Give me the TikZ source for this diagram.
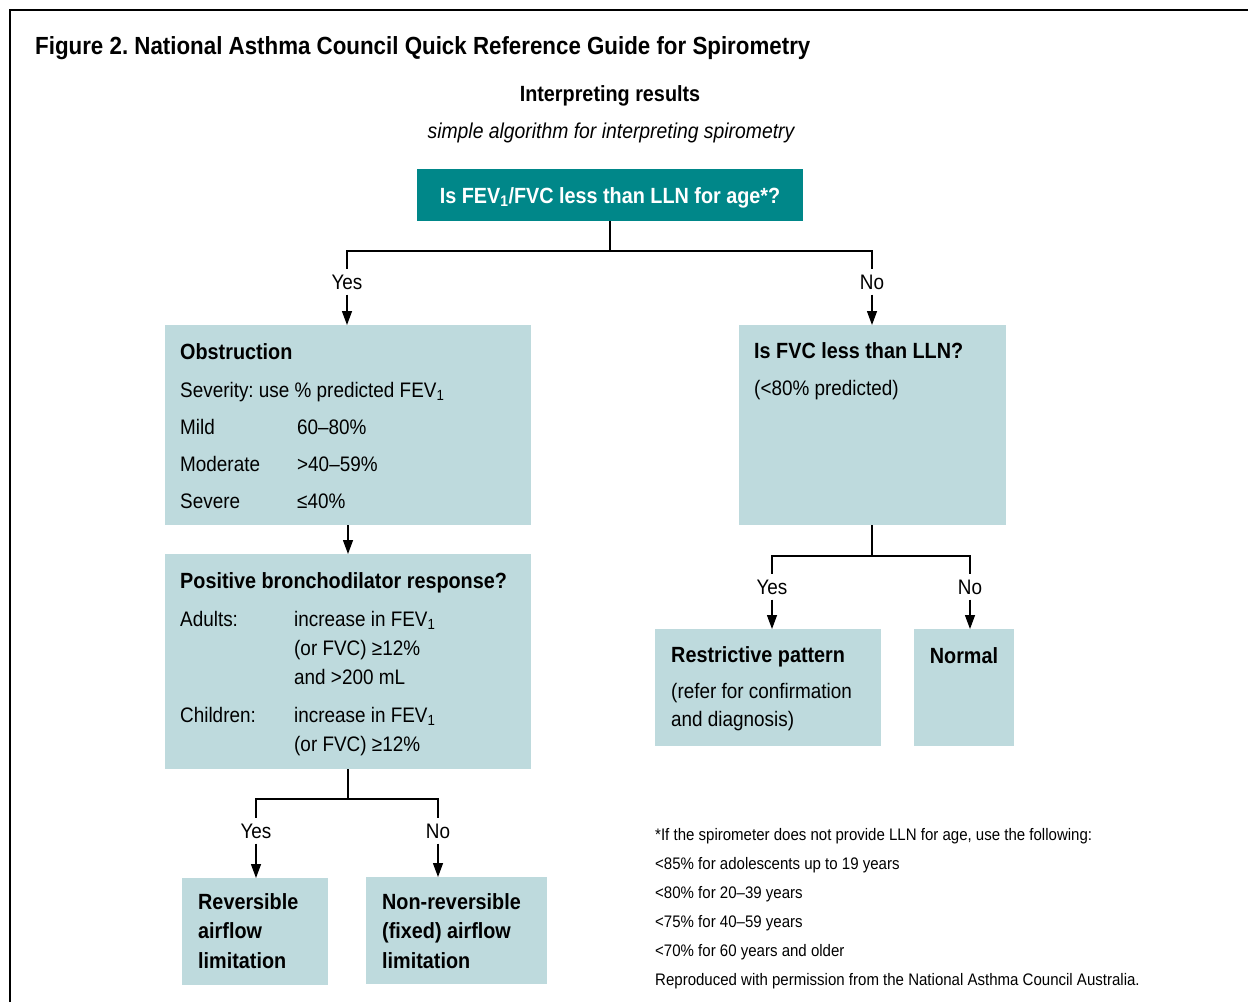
\documentclass[tikz,border=0pt]{standalone}
\usepackage{fontspec}
\setmainfont{Liberation Sans}[FakeStretch=0.9]
\usetikzlibrary{arrows.meta}
\definecolor{teal1}{RGB}{0,135,137}
\definecolor{boxbg}{RGB}{190,218,221}
\frenchspacing
\begin{document}
\begin{tikzpicture}[x=1pt,y=-1pt,
  box/.style={fill=boxbg, draw=none, anchor=north west, inner sep=0pt},
  txt/.style={anchor=base west, inner sep=0pt, font=\fontsize{21}{25}\selectfont},
  btxt/.style={anchor=base west, inner sep=0pt, font=\fontsize{22}{26}\selectfont\bfseries},
  lbl/.style={font=\fontsize{21}{25}\selectfont, inner xsep=2pt, inner ysep=5pt, text height=15pt, text depth=0pt},
  ln/.style={line width=1.3pt},
  arr/.style={ln, -{Triangle[width=10pt,length=14pt]}},
  foot/.style={anchor=base west, inner sep=0pt, font=\fontsize{16.7}{20}\selectfont}]
\useasboundingbox (0,0) rectangle (1248,1002);
\fill[white] (0,0) rectangle (1248,1002);
% frame
\draw[line width=2pt] (10,1002) -- (10,10) -- (1248,10);
% titles
\node[anchor=base west, inner sep=0pt, font=\fontsize{24.8}{30}\selectfont\bfseries] (title) at (35,54) {Figure 2. National Asthma Council Quick Reference Guide for Spirometry};
\node[anchor=base, inner sep=0pt, font=\fontsize{22}{26}\selectfont\bfseries] (sub) at (610,101) {Interpreting results};
\node[anchor=base, inner sep=0pt, font=\fontsize{21.5}{25}\selectfont\itshape] (sub2) at (611,138) {simple algorithm for interpreting spirometry};
% top question
\node[fill=teal1, text=white, minimum width=386pt, minimum height=52pt, inner sep=0pt, font=\fontsize{22}{26}\selectfont\bfseries, text height=16pt, text depth=0pt] (q) at (610,195) {Is FEV\textsubscript{1}/FVC less than LLN for age*?};
% boxes
\node[box, minimum width=366pt, minimum height=200pt] (obs) at (165,325) {};
\node[box, minimum width=366pt, minimum height=215pt] (pbr) at (165,554) {};
\node[box, minimum width=267pt, minimum height=200pt] (fvc) at (739,325) {};
\node[box, minimum width=226pt, minimum height=117pt] (rest) at (655,629) {};
\node[box, minimum width=100pt, minimum height=117pt] (norm) at (914,629) {};
\node[box, minimum width=146pt, minimum height=107pt] (rev) at (182,878) {};
\node[box, minimum width=181pt, minimum height=107pt] (nrev) at (366,877) {};
% obstruction text
\node[btxt] (o1) at (180,359) {Obstruction};
\node[txt] (o2) at (180,397) {Severity: use \% predicted FEV\textsubscript{1}};
\node[txt] (o3a) at (180,434) {Mild};
\node[txt] (o3b) at (297,434) {60–80\%};
\node[txt] (o4a) at (180,471) {Moderate};
\node[txt] (o4b) at (297,471) {>40–59\%};
\node[txt] (o5a) at (180,508) {Severe};
\node[txt] (o5b) at (297,508) {≤40\%};
% bronchodilator text
\node[btxt] (p1) at (180,588) {Positive bronchodilator response?};
\node[txt] (p2a) at (180,626) {Adults:};
\node[txt] (p2b) at (294,626) {increase in FEV\textsubscript{1}};
\node[txt] (p3) at (294,655) {(or FVC) ≥12\%};
\node[txt] (p4) at (294,684) {and >200 mL};
\node[txt] (p5a) at (180,722) {Children:};
\node[txt] (p5b) at (294,722) {increase in FEV\textsubscript{1}};
\node[txt] (p6) at (294,751) {(or FVC) ≥12\%};
% fvc text
\node[btxt] (f1) at (754,358) {Is FVC less than LLN?};
\node[txt] (f2) at (754,395) {(<80\% predicted)};
% restrictive / normal
\node[btxt] (r1) at (671,662) {Restrictive pattern};
\node[txt] (r2) at (671,698) {(refer for confirmation};
\node[txt] (r3) at (671,726) {and diagnosis)};
\node[anchor=base, inner sep=0pt, font=\fontsize{22}{26}\selectfont\bfseries] (n1) at (964,663) {Normal};
% reversible
\node[btxt] (v1) at (198,909) {Reversible};
\node[btxt] (v2) at (198,938) {airflow};
\node[btxt] (v3) at (198,968) {limitation};
\node[btxt] (w1) at (382,909) {Non-reversible};
\node[btxt] (w2) at (382,938) {(fixed) airflow};
\node[btxt] (w3) at (382,968) {limitation};
% labels
\node[lbl] (yA) at (347,282) {Yes};
\node[lbl] (nA) at (872,282) {No};
\node[lbl] (yB) at (772,587) {Yes};
\node[lbl] (nB) at (970,587) {No};
\node[lbl] (yC) at (256,831) {Yes};
\node[lbl] (nC) at (438,831) {No};
% connectors
\coordinate (jA) at (610,251);
\coordinate (jB) at (872,556);
\coordinate (jC) at (348,799);
\draw[ln] (q.south) -- (jA);
\draw[ln] (jA) -| (yA.north);
\draw[ln] (jA) -| (nA.north);
\draw[arr] (yA.south) -- (yA.south |- obs.north);
\draw[arr] (nA.south) -- (nA.south |- fvc.north);
\draw[arr] (obs.south -| jC) -- (jC |- pbr.north);
\draw[ln] (fvc.south -| jB) -- (jB);
\draw[ln] (jB) -| (yB.north);
\draw[ln] (jB) -| (nB.north);
\draw[arr] (yB.south) -- (yB.south |- rest.north);
\draw[arr] (nB.south) -- (nB.south |- norm.north);
\draw[ln] (pbr.south -| jC) -- (jC);
\draw[ln] (jC) -| (yC.north);
\draw[ln] (jC) -| (nC.north);
\draw[arr] (yC.south) -- (yC.south |- rev.north);
\draw[arr] (nC.south) -- (nC.south |- nrev.north);
% footnote
\node[foot] (ft1) at (655,840) {*If the spirometer does not provide LLN for age, use the following:};
\node[foot] (ft2) at (655,869) {<85\% for adolescents up to 19 years};
\node[foot] (ft3) at (655,898) {<80\% for 20–39 years};
\node[foot] (ft4) at (655,927) {<75\% for 40–59 years};
\node[foot] (ft5) at (655,956) {<70\% for 60 years and older};
\node[foot] (ft6) at (655,985) {Reproduced with permission from the National Asthma Council Australia.};
\end{tikzpicture}
\end{document}
